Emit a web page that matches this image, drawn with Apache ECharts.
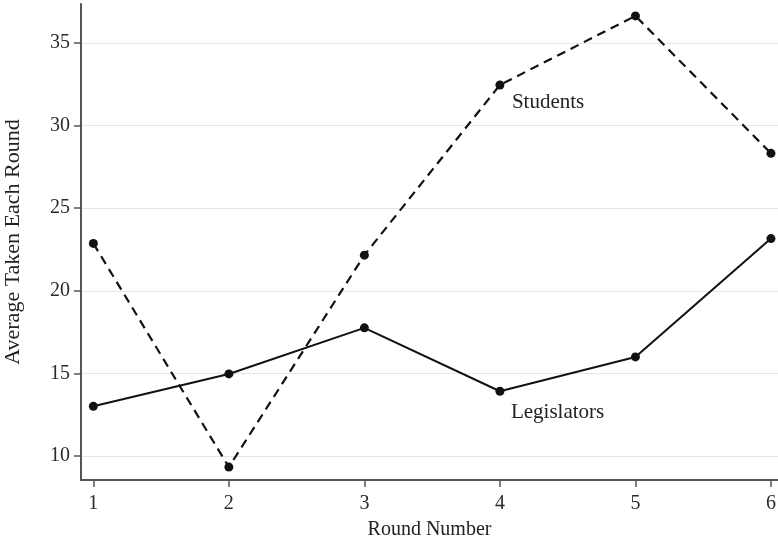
<!DOCTYPE html>
<html>
<head>
<meta charset="utf-8">
<script src="https://cdn.jsdelivr.net/npm/echarts@6/dist/echarts.min.js"></script>
<style>html,body{margin:0;padding:0;background:#fff;}#chart{width:778px;height:545px;}</style>
</head>
<body>
<div id="chart"></div>
<script>
const rounds = [1, 2, 3, 4, 5, 6];
const students = [22.87, 9.33, 22.16, 32.46, 36.64, 28.32];
const legislators = [13.01, 14.97, 17.76, 13.92, 16.0, 23.16];
const yTicks = [10, 15, 20, 25, 30, 35];
const xTicks = [1, 2, 3, 4, 5, 6];
const seriesNames = ['Students', 'Legislators'];
const labelIndex = 3;

const FONT = 'Liberation Serif';
const chart = echarts.init(document.getElementById('chart'));

function pts(vals, name, offset) {
  return vals.map((v, i) => {
    const d = { value: [rounds[i], v] };
    if (i === labelIndex) {
      d.label = {
        show: true, formatter: name, position: 'inside', align: 'left', verticalAlign: 'middle',
        offset: offset, fontFamily: FONT, fontSize: 21, color: '#222'
      };
    }
    return d;
  });
}

chart.setOption({
  animation: false,
  backgroundColor: '#fff',
  grid: { left: 81, right: 0, top: 4, bottom: 65, containLabel: false, outerBoundsMode: 'none' },
  xAxis: {
    type: 'value', min: 0.909, max: 6.052,
    name: 'Round Number', nameLocation: 'middle', nameGap: 40,
    nameTextStyle: { fontFamily: FONT, fontSize: 20, color: '#222' },
    axisLine: { show: true, onZero: false, lineStyle: { color: '#555', width: 2 } },
    axisTick: { show: true, length: 7, customValues: xTicks, lineStyle: { color: '#555', width: 1.5 } },
    axisLabel: { customValues: xTicks, margin: 14, fontFamily: FONT, fontSize: 20, color: '#2a2a2a' },
    splitLine: { show: false }
  },
  yAxis: {
    type: 'value', min: 8.55, max: 37.36,
    name: 'Average Taken Each Round', nameLocation: 'middle', nameGap: 57, nameRotate: 90,
    nameTextStyle: { fontFamily: FONT, fontSize: 22, color: '#222' },
    axisLine: { show: true, onZero: false, lineStyle: { color: '#555', width: 2 } },
    axisTick: { show: true, length: 7, customValues: yTicks, lineStyle: { color: '#555', width: 1.5 } },
    axisLabel: { customValues: yTicks, margin: 11, fontFamily: FONT, fontSize: 20, color: '#2a2a2a' },
    splitLine: { show: true, lineStyle: { color: '#e6e6e6', width: 1.2 } }
  },
  series: [
    {
      name: seriesNames[0], type: 'line', data: pts(students, seriesNames[0], [12, 18]),
      symbol: 'circle', symbolSize: 9,
      lineStyle: { color: '#111', width: 2.2, type: [9, 6] },
      itemStyle: { color: '#111' }
    },
    {
      name: seriesNames[1], type: 'line', data: pts(legislators, seriesNames[1], [11, 21]),
      symbol: 'circle', symbolSize: 9,
      lineStyle: { color: '#111', width: 2 },
      itemStyle: { color: '#111' }
    }
  ]
});
</script>
</body>
</html>
